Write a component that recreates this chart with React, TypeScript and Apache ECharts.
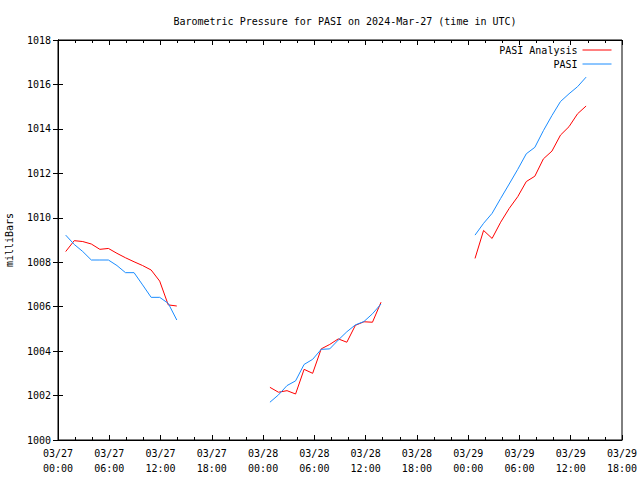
import React, { useEffect, useRef } from "react";
import * as echarts from "echarts";

// Hours since 2024-03-27 00:00 UTC
const hours1 = [0.9, 1.9, 2.9, 3.9, 4.9, 5.9, 6.9, 7.9, 8.9, 9.9, 10.9, 11.9, 12.9, 13.9];
const hours2 = [24.8, 25.8, 26.8, 27.8, 28.8, 29.8, 30.8, 31.8, 32.8, 33.8, 34.8, 35.8, 36.8, 37.8];
const hours3 = [48.8, 49.8, 50.8, 51.8, 52.8, 53.8, 54.8, 55.8, 56.8, 57.8, 58.8, 59.8, 60.8, 61.8];

const analysis1 = [1008.48, 1008.97, 1008.93, 1008.82, 1008.58, 1008.62, 1008.4, 1008.2, 1008.02, 1007.85, 1007.65, 1007.15, 1006.08, 1006.03];
const pasi1 = [1009.22, 1008.8, 1008.48, 1008.1, 1008.1, 1008.1, 1007.85, 1007.53, 1007.53, 1006.98, 1006.42, 1006.42, 1006.15, 1005.4];

const analysis2 = [1002.37, 1002.15, 1002.22, 1002.07, 1003.18, 1003.0, 1004.1, 1004.3, 1004.55, 1004.4, 1005.16, 1005.32, 1005.3, 1006.2];
const pasi2 = [1001.7, 1002.03, 1002.45, 1002.66, 1003.4, 1003.63, 1004.08, 1004.1, 1004.5, 1004.87, 1005.18, 1005.33, 1005.68, 1006.12];

const analysis3 = [1008.17, 1009.43, 1009.07, 1009.8, 1010.42, 1010.95, 1011.63, 1011.87, 1012.65, 1013.0, 1013.72, 1014.1, 1014.68, 1015.03];
const pasi3 = [1009.22, 1009.75, 1010.2, 1010.87, 1011.52, 1012.18, 1012.88, 1013.17, 1013.92, 1014.6, 1015.23, 1015.58, 1015.9, 1016.33];

const dateLabels = ["03/27", "03/27", "03/27", "03/27", "03/28", "03/28", "03/28", "03/28", "03/29", "03/29", "03/29", "03/29"];
const timeLabels = ["00:00", "06:00", "12:00", "18:00", "00:00", "06:00", "12:00", "18:00", "00:00", "06:00", "12:00", "18:00"];

const FONT = "DejaVu Sans Mono";
const RED = "#ff0000";
const BLUE = "#1a8cff";

const pair = (xs: number[], ys: number[]) => xs.map((x, i) => [x, ys[i]]);

export default function App() {
  const ref = useRef<HTMLDivElement>(null);
  useEffect(() => {
    if (!ref.current) return;
    const chart = echarts.init(ref.current, undefined, { renderer: "svg" });
    const textStyle = { fontFamily: FONT, fontSize: 10, color: "#000" };
    const xCommon = {
      type: "value" as const,
      min: 0,
      max: 66,
      interval: 6,
      splitLine: { show: false },
      axisLine: { show: true, lineStyle: { color: "#000", width: 1 } },
      axisTick: { show: true, inside: true, length: 5, lineStyle: { color: "#000" } },
      minorTick: { show: true, splitNumber: 3, length: 3, lineStyle: { color: "#000" } },
      minorSplitLine: { show: false },
    };
    const yCommon = {
      type: "value" as const,
      min: 1000,
      max: 1018,
      interval: 2,
      splitLine: { show: false },
      axisLine: { show: true, lineStyle: { color: "#000", width: 1 } },
      axisTick: { show: true, inside: true, length: 5, lineStyle: { color: "#000" } },
    };
    const lineSeries = (name: string, color: string, data: number[][]) => ({
      name,
      type: "line",
      data,
      symbol: "none",
      showSymbol: false,
      color,
      lineStyle: { color, width: 1 },
      xAxisIndex: 0,
      yAxisIndex: 0,
    });
    chart.setOption({
      animation: false,
      backgroundColor: "#fff",
      title: {
        text: "Barometric Pressure for PASI on 2024-Mar-27 (time in UTC)",
        left: 340,
        textAlign: "center",
        top: 11,
        textStyle: { ...textStyle, fontWeight: "normal" },
      },
      legend: {
        data: ["PASI Analysis", "PASI"],
        orient: "vertical",
        right: 28,
        top: 45,
        align: "right",
        itemWidth: 29,
        itemHeight: 10,
        itemGap: 4,
        padding: 0,
        itemStyle: { opacity: 0 },
        lineStyle: { width: 1 },
        textStyle,
      },
      grid: {
        left: 58,
        right: 18,
        top: 40,
        bottom: 40,
        show: true,
        borderColor: "#000",
        borderWidth: 1,
        containLabel: false,
        outerBoundsMode: "none",
      },
      xAxis: [
        {
          ...xCommon,
          position: "bottom",
          axisLabel: {
            ...textStyle,
            lineHeight: 15,
            margin: 6,
            showMaxLabel: true,
            showMinLabel: true,
            formatter: (v: number) => {
              const i = Math.round(v / 6);
              return dateLabels[i] + "\n" + timeLabels[i];
            },
          },
        },
        { ...xCommon, position: "top", axisLabel: { show: false } },
      ],
      yAxis: [
        {
          ...yCommon,
          position: "left",
          name: "milliBars",
          nameLocation: "middle",
          nameGap: 44,
          nameRotate: 90,
          nameTextStyle: textStyle,
          axisLabel: { ...textStyle, margin: 7, formatter: (v: number) => String(v) },
        },
        { ...yCommon, position: "right", axisLabel: { show: false } },
      ],
      series: [
        lineSeries("PASI Analysis", RED, pair(hours1, analysis1)),
        lineSeries("PASI Analysis", RED, pair(hours2, analysis2)),
        lineSeries("PASI Analysis", RED, pair(hours3, analysis3)),
        lineSeries("PASI", BLUE, pair(hours1, pasi1)),
        lineSeries("PASI", BLUE, pair(hours2, pasi2)),
        lineSeries("PASI", BLUE, pair(hours3, pasi3)),
      ],
    });
    return () => chart.dispose();
  }, []);
  return (
    <div
      ref={ref}
      style={{ position: "fixed", left: 0, top: 0, width: 640, height: 480 }}
    />
  );
}
